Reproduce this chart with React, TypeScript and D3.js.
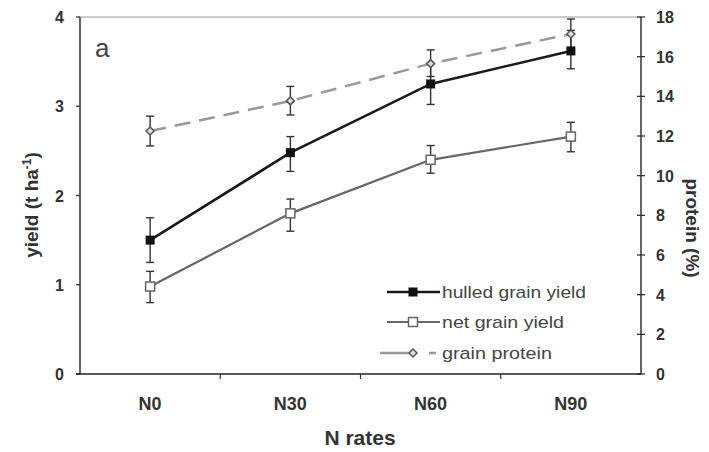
import React from "react";
import * as d3 from "d3";

const categories = ["N0", "N30", "N60", "N90"];
const hulled = [1.5, 2.48, 3.25, 3.62];
const hulledLo = [1.25, 2.27, 3.02, 3.42];
const hulledHi = [1.75, 2.66, 3.48, 3.85];
const net = [0.98, 1.8, 2.4, 2.66];
const netLo = [0.8, 1.6, 2.25, 2.49];
const netHi = [1.15, 1.96, 2.56, 2.82];
const protein = [12.25, 13.77, 15.65, 17.14];
const proteinLo = [11.5, 13.06, 15.0, 16.4];
const proteinHi = [13.0, 14.5, 16.34, 17.9];
const leftTicks = [0, 1, 2, 3, 4];
const rightTicks = [0, 2, 4, 6, 8, 10, 12, 14, 16, 18];
const legendLabels = ["hulled grain yield", "net grain yield", "grain protein"];

const W = 709, H = 452;
const m = { left: 80, right: 641, top: 17, bottom: 374 };

export default function App() {
  const x = d3.scaleBand<string>().domain(categories).range([m.left, m.right]);
  const cx = (c: string) => (x(c) as number) + x.bandwidth() / 2;
  const yL = d3.scaleLinear().domain([0, 4]).range([m.bottom, m.top]);
  const yR = d3.scaleLinear().domain([0, 18]).range([m.bottom, m.top]);
  const line = (vals: number[], y: d3.ScaleLinear<number, number>) =>
    d3.line<number>().x((_, i) => cx(categories[i])).y((v) => y(v))(vals) as string;
  const font = "Arial, 'Liberation Sans', sans-serif";
  const err = (lo: number[], hi: number[], y: d3.ScaleLinear<number, number>, key: string) =>
    categories.map((c, i) => {
      const xx = cx(c);
      return (
        <g key={key + i} stroke="#333" strokeWidth={1.4}>
          <line x1={xx} x2={xx} y1={y(lo[i])} y2={y(hi[i])} />
          <line x1={xx - 4} x2={xx + 4} y1={y(lo[i])} y2={y(lo[i])} />
          <line x1={xx - 4} x2={xx + 4} y1={y(hi[i])} y2={y(hi[i])} />
        </g>
      );
    });
  const boundaries = [m.left, ...categories.map((c) => (x(c) as number) + x.bandwidth())];
  const diamond = (px: number, py: number, key: string) => (
    <path key={key} d={`M${px},${py - 4}L${px + 4},${py}L${px},${py + 4}L${px - 4},${py}Z`} fill="#ddd" stroke="#555" strokeWidth={1.5} />
  );
  const legY = [292, 322, 353];
  const legW = [144, 122, 110];
  return (
    <svg width={W} height={H} style={{ display: "block", position: "absolute", left: 0, top: 0 }} fontFamily={font}>
      <rect width={W} height={H} fill="#fff" />
      <line x1={m.left} x2={m.right} y1={m.top} y2={m.top} stroke="#999" strokeWidth={1.2} />
      <line x1={m.left} x2={m.left} y1={m.top} y2={m.bottom} stroke="#333" strokeWidth={1.5} />
      {leftTicks.map((t) => (
        <g key={"l" + t}>
          <line x1={m.left - 4} x2={m.left} y1={yL(t)} y2={yL(t)} stroke="#333" strokeWidth={1.3} />
          <text x={64} y={yL(t) + 6} textAnchor="end" fontSize={16} fontWeight="bold" fill="#333">{t}</text>
        </g>
      ))}
      <line x1={m.right} x2={m.right} y1={m.top} y2={m.bottom} stroke="#333" strokeWidth={1.5} />
      {rightTicks.map((t) => (
        <g key={"r" + t}>
          <line x1={m.right - 4} x2={m.right + 4} y1={yR(t)} y2={yR(t)} stroke="#333" strokeWidth={1.3} />
          <text x={656} y={yR(t) + 6} textAnchor="start" fontSize={16} fontWeight="bold" fill="#333">{t}</text>
        </g>
      ))}
      <line x1={m.left - 4} x2={m.right} y1={m.bottom} y2={m.bottom} stroke="#222" strokeWidth={1.5} />
      {boundaries.slice(1, 4).map((b, i) => (
        <line key={"b" + i} x1={b} x2={b} y1={m.bottom} y2={m.bottom + 5} stroke="#333" strokeWidth={1.2} />
      ))}
      {categories.map((c) => (
        <text key={c} x={cx(c)} y={410} textAnchor="middle" fontSize={18} fontWeight="bold" fill="#333">{c}</text>
      ))}
      <text x={360} y={445} textAnchor="middle" fontSize={21} fontWeight="bold" fill="#333">N rates</text>
      <text transform={`translate(38,205) rotate(-90)`} textAnchor="middle" fontSize={19} fontWeight="bold" fill="#333">
        yield (t ha<tspan dy={-7} fontSize={12}>-1</tspan><tspan dy={7}>)</tspan>
      </text>
      <text transform={`translate(686,228) rotate(90)`} textAnchor="middle" fontSize={19} fontWeight="bold" fill="#333">protein (%)</text>
      <text x={95} y={57} fontSize={26} fill="#444">a</text>

      <path d={line(protein, yR)} fill="none" stroke="#999" strokeWidth={2.5} strokeDasharray="16,9" />
      {err(proteinLo, proteinHi, yR, "pe")}
      <path d={line(hulled, yL)} fill="none" stroke="#1a1a1a" strokeWidth={2.6} />
      {err(hulledLo, hulledHi, yL, "he")}
      <path d={line(net, yL)} fill="none" stroke="#666" strokeWidth={2.2} />
      {err(netLo, netHi, yL, "ne")}
      {categories.map((c, i) => diamond(cx(c), yR(protein[i]), "pd" + i))}
      {categories.map((c, i) => (
        <rect key={"hm" + i} x={cx(c) - 4.5} y={yL(hulled[i]) - 4.5} width={9} height={9} fill="#111" />
      ))}
      {categories.map((c, i) => (
        <rect key={"nm" + i} x={cx(c) - 4.5} y={yL(net[i]) - 4.5} width={9} height={9} fill="#fff" stroke="#666" strokeWidth={1.5} />
      ))}

      <line x1={387} x2={440} y1={legY[0]} y2={legY[0]} stroke="#1a1a1a" strokeWidth={2.6} />
      <rect x={408.5} y={legY[0] - 4.5} width={9} height={9} fill="#111" />
      <line x1={387} x2={440} y1={legY[1]} y2={legY[1]} stroke="#666" strokeWidth={2.2} />
      <rect x={408.5} y={legY[1] - 4.5} width={9} height={9} fill="#fff" stroke="#666" strokeWidth={1.5} />
      <line x1={380} x2={409} y1={legY[2]} y2={legY[2]} stroke="#999" strokeWidth={2.5} />
      <line x1={429} x2={436} y1={legY[2]} y2={legY[2]} stroke="#999" strokeWidth={2.5} />
      {diamond(413, legY[2], "ld")}
      {legendLabels.map((l, i) => (
        <text key={l} x={442} y={legY[i] + 6} fontSize={17} fill="#444" textLength={legW[i]} lengthAdjust="spacingAndGlyphs">{l}</text>
      ))}
    </svg>
  );
}
